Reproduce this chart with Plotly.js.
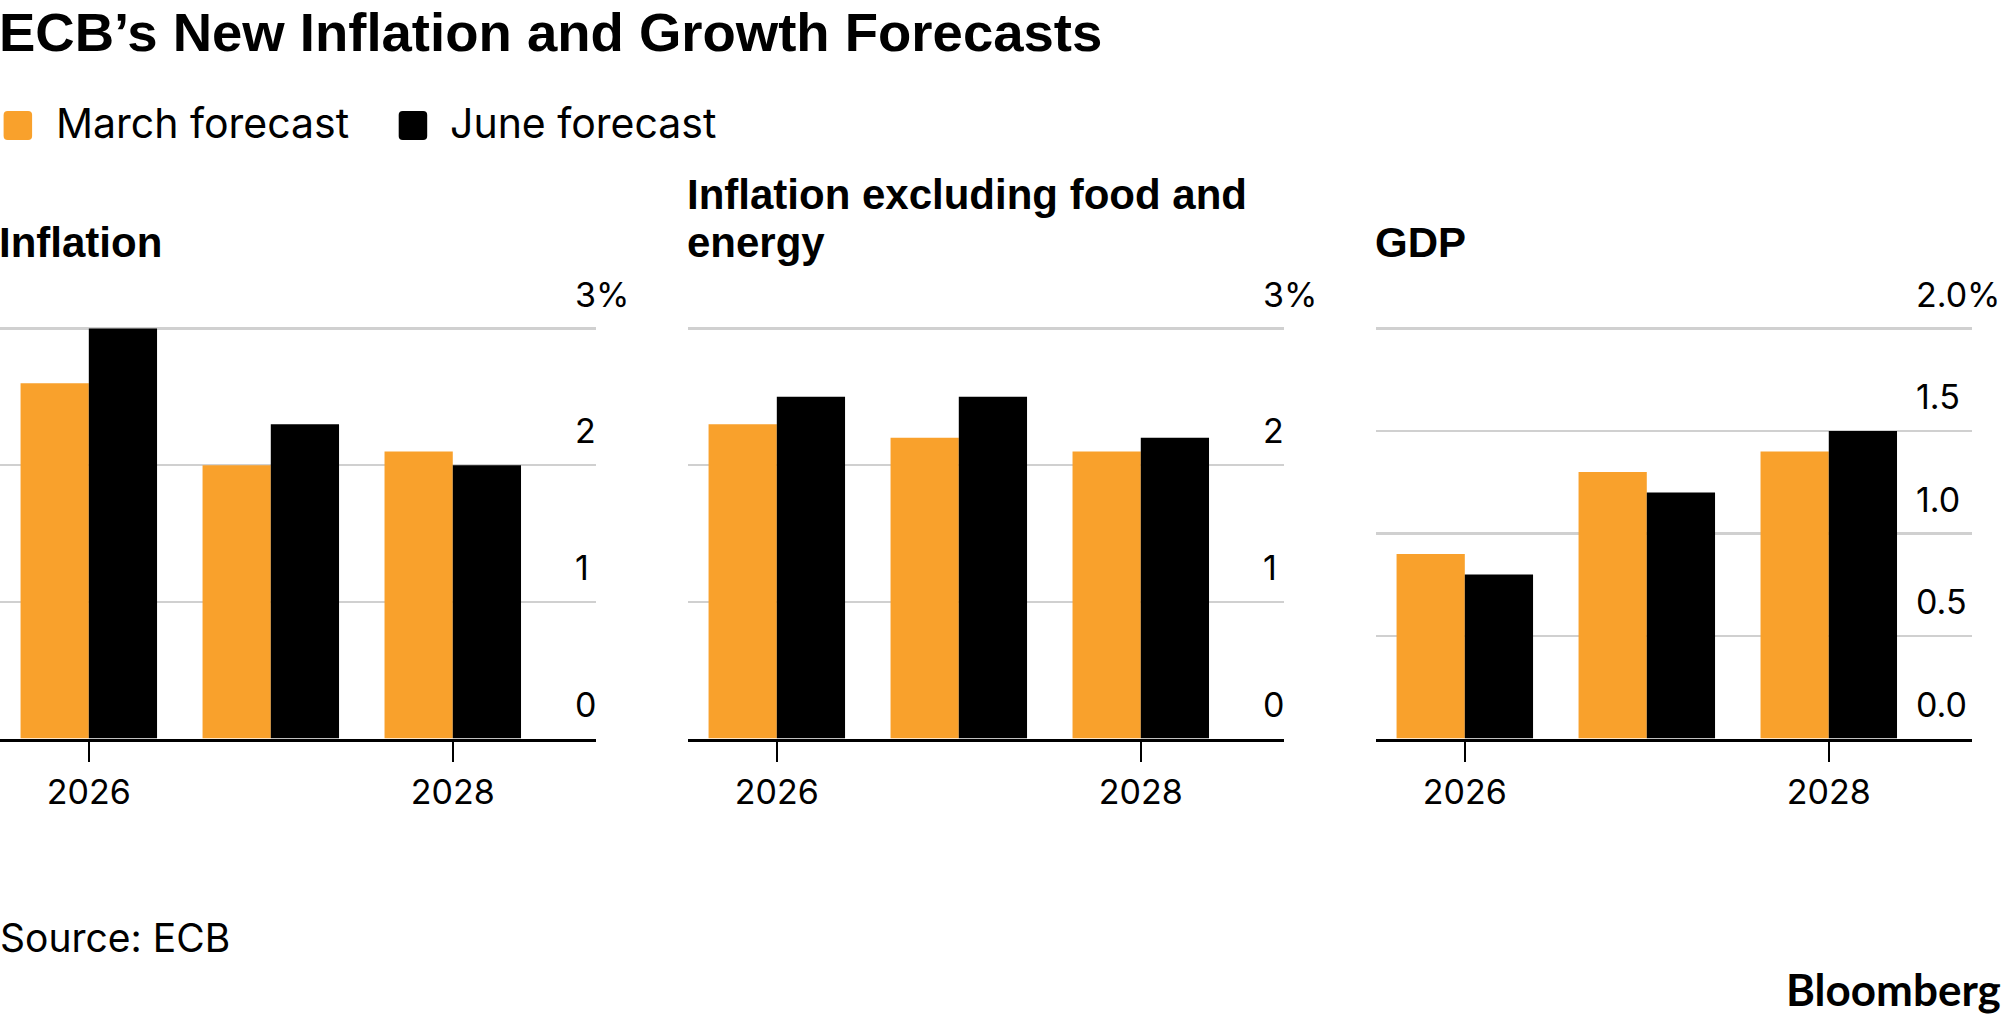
<!DOCTYPE html>
<html>
<head>
<meta charset="utf-8">
<script src="https://cdn.plot.ly/plotly-3.0.1.min.js"></script>
<style>
  html, body { margin: 0; padding: 0; background: #ffffff; overflow: hidden; }
  #chart { width: 2004px; height: 1020px; }
</style>
</head>
<body>
<div id="chart"></div>
<script>
// ---- Data ----
const years = [2026, 2027, 2028];
const xTickVals = [2026, 2028];
const xTickText = ["2026", "2028"];

const inflationMarch = [2.6, 2.0, 2.1];
const inflationJune  = [3.0, 2.3, 2.0];

const coreMarch = [2.3, 2.2, 2.1];
const coreJune  = [2.5, 2.5, 2.2];

const gdpMarch = [0.9, 1.3, 1.4];
const gdpJune  = [0.8, 1.2, 1.5];

const inflTickVals = [0, 1, 2, 3];
const inflTickText = ["0", "1", "2", "3%"];
const gdpTickVals = [0, 0.5, 1.0, 1.5, 2.0];
const gdpTickText = ["0.0", "0.5", "1.0", "1.5", "2.0%"];

const seriesNames = ["March forecast", "June forecast"];
const panelTitles = ["Inflation", "Inflation excluding food and", "energy", "GDP"];
const chartTitle = "ECB’s New Inflation and Growth Forecasts";
const sourceText = "Source: ECB";
const brandText = "Bloomberg";

// ---- Styling ----
const W = 2004, H = 1020;
const ORANGE = "#F9A12C";
const BLACK = "#000000";
const REG = "Inter, 'Liberation Sans', Arial, sans-serif";
const BOLD = "'Liberation Sans', Arial, sans-serif";
const px = x => x / W;
const py = y => 1 - y / H;

// a little headroom above the top gridline so that it is drawn
const yDomain = [py(738.6), py(326.4)];
const inflRange = [0, 3.015];
const gdpRange = [0, 2.01];
const xDomains = [[px(0), px(596)], [px(688), px(1284)], [px(1376), px(1972)]];
const xRange = [2025.512, 2028.787];

function bar(name, x, y, color, xa, ya) {
  return {
    type: "bar", name: name, x: x, y: y,
    xaxis: xa, yaxis: ya,
    marker: { color: color, line: { width: 0 } },
    showlegend: false, hoverinfo: "x+y+name"
  };
}

const data = [
  bar(seriesNames[0], years, inflationMarch, ORANGE, "x", "y"),
  bar(seriesNames[1], years, inflationJune, BLACK, "x", "y"),
  bar(seriesNames[0], years, coreMarch, ORANGE, "x2", "y2"),
  bar(seriesNames[1], years, coreJune, BLACK, "x2", "y2"),
  bar(seriesNames[0], years, gdpMarch, ORANGE, "x3", "y3"),
  bar(seriesNames[1], years, gdpJune, BLACK, "x3", "y3")
];

function xAxis(dom, anchor) {
  return {
    domain: dom, anchor: anchor, range: xRange, fixedrange: true,
    tickmode: "array", tickvals: xTickVals, ticktext: xTickText,
    ticks: "outside", ticklen: 20, tickwidth: 2.5, tickcolor: BLACK,
    showline: true, linecolor: BLACK, linewidth: 3,
    showgrid: false, zeroline: false,
    tickfont: { family: REG, size: 34, color: BLACK },
    ticklabelstandoff: 2
  };
}
function yAxis(anchor, range, vals, text, standoff) {
  return {
    domain: yDomain, anchor: anchor, side: "right", range: range, fixedrange: true,
    tickmode: "array", tickvals: vals, ticktext: text,
    ticks: "", showline: false, zeroline: false,
    showgrid: true, gridcolor: "#D0D0D0", gridwidth: 2.5,
    ticklabelposition: "outside top",
    ticklabelstandoff: standoff,
    ticklabelshift: -10,
    tickfont: { family: REG, size: 34, color: BLACK }
  };
}

function ann(text, x, y, opts) {
  return Object.assign({
    text: text, xref: "paper", yref: "paper", x: px(x), y: py(y),
    xanchor: "left", yanchor: "middle", showarrow: false, align: "left",
    font: { family: REG, size: 41, color: BLACK }
  }, opts || {});
}

function roundRect(xa, yc, w, h, r, color) {
  const hh = h / 2;
  const path = `M${r},${-hh} L${w - r},${-hh} Q${w},${-hh} ${w},${-hh + r} L${w},${hh - r} Q${w},${hh} ${w - r},${hh} L${r},${hh} Q0,${hh} 0,${hh - r} L0,${-hh + r} Q0,${-hh} ${r},${-hh} Z`;
  return {
    type: "path", xref: "paper", yref: "paper",
    xsizemode: "pixel", ysizemode: "pixel",
    xanchor: px(xa), yanchor: py(yc), path: path,
    fillcolor: color, line: { width: 0 }
  };
}

const boldFont = { family: BOLD, size: 42, color: BLACK, weight: 700 };

const layout = {
  width: W, height: H,
  margin: { l: 0, r: 0, t: 0, b: 0, pad: 0 },
  paper_bgcolor: "#ffffff", plot_bgcolor: "#ffffff",
  barmode: "group", bargap: 0.25, bargroupgap: 0,
  showlegend: false,
  xaxis: xAxis(xDomains[0], "y"),
  xaxis2: xAxis(xDomains[1], "y2"),
  xaxis3: xAxis(xDomains[2], "y3"),
  yaxis: yAxis("x", inflRange, inflTickVals, inflTickText, -22),
  yaxis2: yAxis("x2", inflRange, inflTickVals, inflTickText, -22),
  yaxis3: yAxis("x3", gdpRange, gdpTickVals, gdpTickText, -57),
  shapes: [
    roundRect(3.6, 125.4, 28.5, 29, 4, ORANGE),
    roundRect(398.7, 125.4, 28.5, 29, 4, BLACK)
  ],
  annotations: [
    ann(chartTitle, -3, 32.5, { font: { family: BOLD, size: 54.5, color: BLACK, weight: 700 } }),
    ann(seriesNames[0], 54, 122.5),
    ann(seriesNames[1], 448, 122.5),
    ann(panelTitles[0], -3, 242.5, { font: boldFont }),
    ann(panelTitles[1], 685, 194.5, { font: boldFont }),
    ann(panelTitles[2], 685, 242, { font: boldFont }),
    ann(panelTitles[3], 1373, 242.5, { font: boldFont }),
    ann(sourceText, -2, 937, { font: { family: REG, size: 39, color: BLACK } }),
    ann(brandText, 2003, 989, { xanchor: "right", font: { family: "Lato, 'Liberation Sans', sans-serif", size: 44, color: BLACK, weight: 700 } })
  ]
};

Plotly.newPlot("chart", data, layout, { staticPlot: true, displayModeBar: false });
</script>
</body>
</html>
